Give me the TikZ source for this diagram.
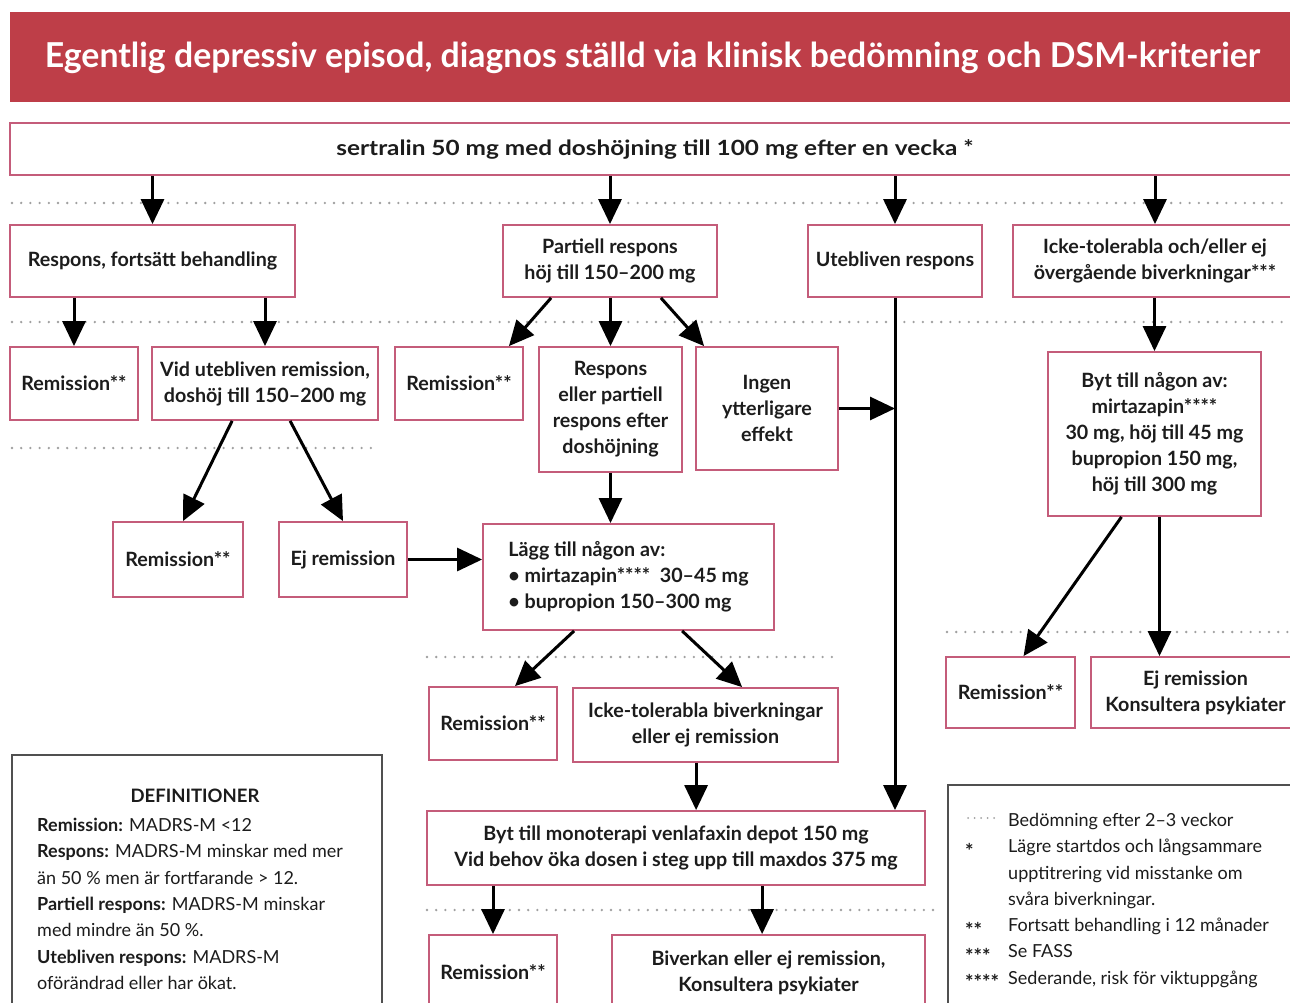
\documentclass[tikz,border=0pt]{standalone}
\usepackage{fontspec}
\setmainfont{Lato}
\usetikzlibrary{arrows.meta,calc}
\definecolor{titlered}{RGB}{190,62,72}
\definecolor{boxpink}{RGB}{196,92,122}
\definecolor{dotgray}{RGB}{160,160,160}
\definecolor{txt}{RGB}{28,28,28}
\definecolor{framegray}{RGB}{80,80,80}
\tikzset{
  box/.style={draw=boxpink, line width=1.8pt, fill=white, align=center, inner sep=0pt,
    text=txt, font=\bfseries\fontsize{19.7}{26}\selectfont},
  frame/.style={draw=framegray, line width=1.6pt, fill=white},
  arr/.style={-{Triangle[length=25pt,width=23pt]}, line width=3pt, black},
  dots/.style={dotgray, line width=2.6pt, dash pattern=on 0pt off 9.2pt, line cap=round},
  bodytext/.style={align=left, inner sep=0pt, text=txt, font=\fontsize{18}{26.3}\selectfont},
}
\newcommand\bx[6]{\node[box, minimum width={(#4-#2)*1pt}, minimum height={(#5-#3)*1pt}]
  (#1) at ({(#2+#4)/2},{(#3+#5)/2}) {#6};}
\begin{document}
\begin{tikzpicture}[x=1pt,y=-1pt]
\useasboundingbox (0,0) rectangle (1290,1003);
\clip (0,0) rectangle (1290,1003);
\fill[white] (0,0) rectangle (1290,1003);
% title
\node[fill=titlered, inner sep=0pt, minimum width=1295pt, minimum height=90pt] (titlebar) at (657.5,57) {};
\node[anchor=base, text=white, inner sep=0pt] (title) at (652.5,68)
  {\resizebox{1215pt}{25.5pt}{\bfseries Egentlig depressiv episod, diagnos ställd via klinisk bedömning och DSM-kriterier}};
% dotted assessment lines
\draw[dots] (12,203) -- (1290,203);
\draw[dots] (12,322) -- (1290,322);
\draw[dots] (12,448) -- (375,448);
\draw[dots] (427,657) -- (833,657);
\draw[dots] (947,632) -- (1290,632);
\draw[dots] (427,910) -- (940,910);
% boxes
\node[box, minimum width=1290pt, minimum height=52pt, font=\bfseries\fontsize{21}{26}\selectfont] (sert)
  at (655,149) {\scalebox{1.16}[1]{sertralin 50 mg med doshöjning till 100 mg efter en vecka *}};
\bx{resp}{10}{225}{295}{297}{Respons, fortsätt behandling}
\bx{part}{503}{225}{717}{297}{Partiell respons\\höj till 150–200 mg}
\bx{uteb}{808}{225}{982}{297}{Utebliven respons}
\bx{icke}{1013}{225}{1297}{297}{Icke-tolerabla och/eller ej\\övergående biverkningar***}
\bx{remA}{10}{347}{138}{420}{Remission**}
\bx{vid}{152}{347}{378}{420}{Vid utebliven remission,\\doshöj till 150–200 mg}
\bx{remB}{395}{347}{523}{420}{Remission**}
\bx{respb}{539}{347}{682}{472}{Respons\\eller partiell\\respons efter\\doshöjning}
\bx{ingen}{696}{347}{838}{470}{Ingen\\ytterligare\\effekt}
\bx{byt}{1048}{352}{1261}{516}{Byt till någon av:\\mirtazapin****\\30 mg, höj till 45 mg\\bupropion 150 mg,\\höj till 300 mg}
\bx{remC}{113}{522}{243}{597}{Remission**}
\bx{ejA}{279}{522}{407}{597}{Ej remission}
\node[box, align=left, minimum width=291pt, minimum height=106pt] (lagg) at (628.5,577)
  {Lägg till någon av:\\• mirtazapin****\ \ 30–45 mg\\• bupropion 150–300 mg};
\bx{remD}{946}{657}{1075}{728}{Remission**}
\bx{ejB}{1091}{657}{1300}{728}{Ej remission\\Konsultera psykiater}
\bx{remE}{429}{687}{557}{760}{Remission**}
\bx{ickeb}{573}{688}{838}{762}{Icke-tolerabla biverkningar\\eller ej remission}
\bx{venl}{427}{811}{925}{885}{Byt till monoterapi venlafaxin depot 150 mg\\Vid behov öka dosen i steg upp till maxdos 375 mg}
\bx{remF}{429}{935}{557}{1010}{Remission**}
\bx{biv}{612}{935}{925}{1010}{Biverkan eller ej remission,\\Konsultera psykiater}
% helper coordinates for connector ends
\coordinate (pA) at ($(part.south west)+(49,0)$);
\coordinate (pB) at ($(remB.north east)+(-15,0)$);
\coordinate (pC) at ($(part.south east)+(-57,0)$);
\coordinate (pD) at ($(ingen.north west)+(9,0)$);
\coordinate (vA) at ($(vid.south west)+(81,0)$);
\coordinate (vB) at ($(remC.north)+(5,0)$);
\coordinate (vC) at ($(vid.south west)+(139,0)$);
\coordinate (join) at (uteb.south |- ingen.east);
\coordinate (bA) at ($(byt.south)+(-33,0)$);
\coordinate (bB) at ($(remD.north)+(13,0)$);
\coordinate (bC) at ($(byt.south)+(5,0)$);
\coordinate (lA) at ($(lagg.south west)+(92,0)$);
\coordinate (lB) at ($(remE.north)+(22,0)$);
\coordinate (lC) at ($(lagg.south west)+(200,0)$);
\coordinate (lD) at ($(ickeb.north west)+(170,0)$);
\coordinate (iA) at ($(ickeb.south west)+(124,0)$);
\coordinate (wA) at ($(venl.south west)+(336,0)$);
% arrows
\draw[arr] (sert.south -| resp.north) -- (resp.north);
\draw[arr] (sert.south -| part.north) -- (part.north);
\draw[arr] (sert.south -| uteb.north) -- (uteb.north);
\draw[arr] (sert.south -| icke.north) -- (icke.north);
\draw[arr] (resp.south -| remA.north) -- (remA.north);
\draw[arr] (resp.south -| vid.north) -- (vid.north);
\draw[arr] (pA) -- (pB);
\draw[arr] (part.south -| respb.north) -- (respb.north);
\draw[arr] (pC) -- (pD);
\draw[arr] (vA) -- (vB);
\draw[arr] (vC) -- (ejA.north);
\draw[arr] (ejA.east) -- (lagg.west |- ejA.east);
\draw[arr] (respb.south) -- (respb.south |- lagg.north);
\draw[arr] (ingen.east) -- (join);
\draw[arr] (uteb.south) -- (uteb.south |- venl.north);
\draw[arr] (icke.south -| byt.north) -- (byt.north);
\draw[arr] (bA) -- (bB);
\draw[arr] (bC) -- (bC |- ejB.north);
\draw[arr] (lA) -- (lB);
\draw[arr] (lC) -- (lD);
\draw[arr] (iA) -- (iA |- venl.north);
\draw[arr] (venl.south -| remF.north) -- (remF.north);
\draw[arr] (wA) -- (wA |- biv.north);
% definitions
\node[frame, minimum width=370pt, minimum height=260pt, inner sep=0pt] (defbox) at (197,885) {};
\node[anchor=base, inner sep=0pt, text=txt, font=\bfseries\fontsize{18.5}{26}\selectfont] (deftitle) at (195,802) {DEFINITIONER};
\node[bodytext, anchor=north west] (defbody) at (37,818) {%
{\bfseries Remission:} MADRS-M <12\\
{\bfseries Respons:} MADRS-M minskar med mer\\
än 50 \% men är fortfarande > 12.\\
{\bfseries Partiell respons:} MADRS-M minskar\\
med mindre än 50 \%.\\
{\bfseries Utebliven respons:} MADRS-M\\
oförändrad eller har ökat.};
% legend
\node[frame, minimum width=360pt, minimum height=230pt, inner sep=0pt] (legbox) at (1128,900) {};
\coordinate (dsA) at (968,818);
\coordinate (dsB) at (1000,818);
\draw[dots, line width=2pt, dash pattern=on 0pt off 6.5pt] (dsA) -- (dsB);
\node[bodytext, anchor=north west] (legtext) at (1008,813) {%
Bedömning efter 2–3 veckor\\
Lägre startdos och långsammare\\
upptitrering vid misstanke om\\
svåra biverkningar.\\
Fortsatt behandling i 12 månader\\
Se FASS\\
Sederande, risk för viktuppgång};
\node[bodytext, anchor=base west, font=\bfseries\fontsize{20}{26}\selectfont] (s1) at (965,858) {*};
\node[bodytext, anchor=base west, font=\bfseries\fontsize{20}{26}\selectfont] (s2) at (965,937) {**};
\node[bodytext, anchor=base west, font=\bfseries\fontsize{20}{26}\selectfont] (s3) at (965,963) {***};
\node[bodytext, anchor=base west, font=\bfseries\fontsize{20}{26}\selectfont] (s4) at (965,989) {****};
\end{tikzpicture}
\end{document}
